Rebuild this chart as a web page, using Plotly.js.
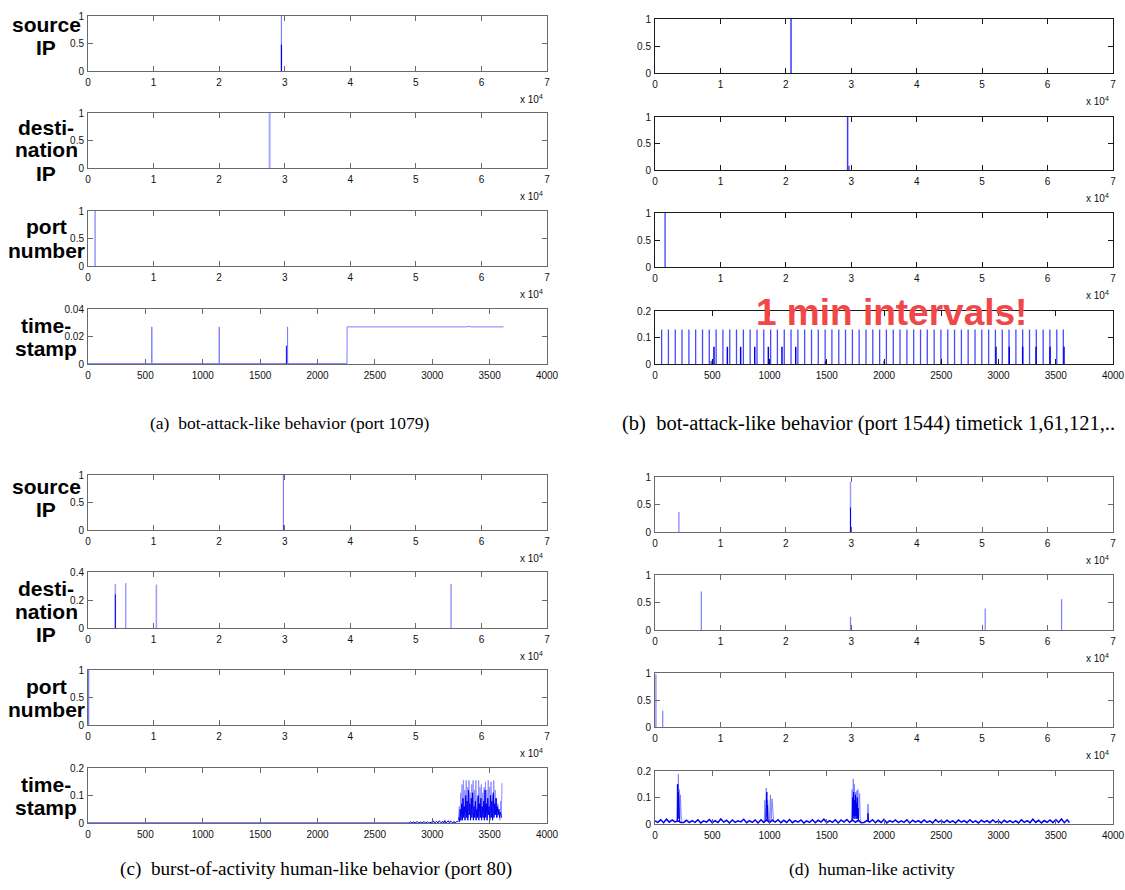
<!DOCTYPE html>
<html><head><meta charset="utf-8">
<script src="https://cdn.plot.ly/plotly-3.0.1.min.js"></script>
<style>html,body{margin:0;padding:0;background:#fff}#chart{width:1125px;height:890px}</style>
</head><body><div id="chart"></div>
<script>
// ---------------- DATA ----------------
// x tick labels
const ipTickVals = [0,10000,20000,30000,40000,50000,60000,70000];
const ipTickText = ['0','1','2','3','4','5','6','7'];
const tsTickVals = [0,500,1000,1500,2000,2500,3000,3500,4000];
const tsTickText = ['0','500','1000','1500','2000','2500','3000','3500','4000'];

// (a) bot-attack-like behavior (port 1079)
const aSrcLightX = [29500], aSrcLightH = [1.0];
const aSrcDarkX = [29500], aSrcDarkH = [0.48];
const aDstLightX = [27700], aDstLightH = [1.0];
const aPortX = [1079], aPortH = [1.0];
const aTsX = [0,555,556,557,1143,1144,1145,1738,1739,1740,2257,2258,3300,3320,3330,3622];
const aTsY = [0.0003,0.0003,0.027,0.0003,0.0003,0.027,0.0003,0.0003,0.027,0.0003,0.0003,0.027,0.027,0.0275,0.027,0.027];
const aTsDarkX = [1729], aTsDarkH = [0.0133];

// (b) bot-attack-like behavior (port 1544)
const bSrcX = [20790], bSrcH = [1.0];
const bDstX = [29440], bDstH = [1.0];
const bDstSmallX = [29650], bDstSmallH = [0.08];
const bPortX = [1544], bPortH = [1.0];
const bTsLightX = [58,117,177,236,296,355,415,474,534,593,653,712,772,831,891,950,1010,1069,1129,1188,1248,1307,1367,1426,1486,1545,1605,1664,1724,1783,1843,1902,1962,2021,2081,2140,2200,2259,2319,2378,2438,2497,2557,2616,2676,2735,2795,2854,2914,2973,3033,3092,3152,3211,3271,3330,3390,3449,3509,3566];
const bTsLightH = [0.13,0.13,0.13,0.13,0.13,0.13,0.13,0.13,0.13,0.13,0.13,0.13,0.13,0.13,0.13,0.13,0.13,0.13,0.13,0.13,0.13,0.13,0.13,0.13,0.13,0.13,0.13,0.13,0.13,0.13,0.13,0.13,0.13,0.13,0.13,0.13,0.13,0.13,0.13,0.13,0.13,0.13,0.13,0.13,0.13,0.13,0.13,0.13,0.13,0.13,0.13,0.13,0.13,0.13,0.13,0.13,0.13,0.13,0.13,0.13];
const bTsDarkX = [515,632,748,871,990,1109,1229,2978,3094,3211,3328,3450,3572];
const bTsDarkH = [0.065,0.065,0.065,0.065,0.065,0.065,0.065,0.065,0.065,0.065,0.065,0.065,0.065];
const bTsTinyX = [490,1490,2000,2500], bTsTinyH = [0.012,0.012,0.012,0.012];

// (c) burst-of-activity human-like behavior (port 80)
const cSrcLightX = [29800], cSrcLightH = [1.0];
const cSrcDarkX = [29900], cSrcDarkH = [0.08];
const cDstLightX = [4170,5750,10430,55370], cDstLightH = [0.315,0.32,0.31,0.315];
const cDstDarkX = [4170], cDstDarkH = [0.24];
const cPortX = [80], cPortH = [1.0];
const cTsBaseX = [0,2800,2810,2820,2840,2850,2870,2880,2900,2910,2930,2940,2960,2970,3000,3010,3020,3040,3050,3060,3080,3090,3100,3110,3120,3140,3150,3160,3180,3190,3200,3210,3228];
const cTsBaseY = [0,0,0.005,0,0.004,0,0.005,0,0.004,0,0.005,0,0.004,0,0.003,0.008,0,0.006,0,0.008,0,0.007,0,0.009,0,0.008,0,0.007,0,0.006,0,0.005,0.005];
const cTsLightX = [3228,3236,3242,3248,3254,3260,3266,3272,3278,3284,3290,3296,3302,3308,3314,3320,3326,3332,3338,3344,3350,3356,3362,3368,3374,3380,3386,3392,3398,3404,3410,3416,3422,3428,3434,3440,3446,3452,3458,3464,3470,3476,3482,3488,3494,3500,3506,3512,3518,3524,3530,3536,3542,3548,3554,3560,3566,3572,3578,3584,3590,3596,3602,3608];
const cTsLightY = [0.005,0.06,0.01,0.11,0.02,0.14,0.03,0.155,0.02,0.12,0.04,0.155,0.03,0.13,0.02,0.155,0.05,0.11,0.02,0.14,0.03,0.155,0.04,0.12,0.02,0.155,0.03,0.09,0.02,0.155,0.05,0.13,0.02,0.14,0.03,0.11,0.02,0.13,0.04,0.15,0.03,0.12,0.02,0.155,0.05,0.13,0.02,0.15,0.04,0.1,0.02,0.155,0.03,0.12,0.05,0.09,0.02,0.07,0.03,0.05,0.01,0.08,0.02,0.145];
const cTsDarkX = [3230,3238,3244,3250,3256,3262,3268,3274,3280,3286,3292,3298,3304,3310,3316,3322,3328,3334,3340,3346,3352,3358,3364,3370,3376,3382,3388,3394,3400,3406,3412,3418,3424,3430,3436,3442,3448,3454,3460,3466,3472,3478,3484,3490,3496,3502,3508,3514,3520,3526,3532,3538,3544,3550,3556,3562,3568,3574,3580,3586,3592,3598,3604];
const cTsDarkY = [0.02,0.005,0.05,0.01,0.07,0.01,0.09,0.02,0.06,0.01,0.1,0.02,0.08,0.01,0.12,0.03,0.07,0.01,0.09,0.02,0.11,0.01,0.06,0.02,0.08,0.01,0.05,0.02,0.1,0.01,0.07,0.02,0.09,0.01,0.06,0.02,0.08,0.01,0.12,0.02,0.07,0.01,0.09,0.03,0.06,0.01,0.1,0.02,0.08,0.01,0.11,0.02,0.07,0.03,0.09,0.02,0.06,0.03,0.05,0.02,0.04,0.03,0.02];

// (d) human-like activity
const dSrcLightX = [3650,29880], dSrcLightH = [0.365,0.915];
const dSrcDarkX = [29880], dSrcDarkH = [0.445];
const dDstX = [7076,29880,50470,62140], dDstH = [0.70,0.24,0.39,0.56];
const dPortX = [140,1180], dPortH = [0.975,0.30];
const dTsX = [0,25,50,75,100,125,150,175,200,225,250,275,300,325,350,375,400,425,450,475,500,525,550,575,600,625,650,675,700,725,750,775,800,825,850,875,900,925,950,975,1000,1025,1050,1075,1100,1125,1150,1175,1200,1225,1250,1275,1300,1325,1350,1375,1400,1425,1450,1475,1500,1525,1550,1575,1600,1625,1650,1675,1700,1725,1750,1775,1800,1825,1850,1875,1900,1925,1950,1975,2000,2025,2050,2075,2100,2125,2150,2175,2200,2225,2250,2275,2300,2325,2350,2375,2400,2425,2450,2475,2500,2525,2550,2575,2600,2625,2650,2675,2700,2725,2750,2775,2800,2825,2850,2875,2900,2925,2950,2975,3000,3025,3050,3075,3100,3125,3150,3175,3200,3225,3250,3275,3300,3325,3350,3375,3400,3425,3450,3475,3500,3525,3550,3575,3600,3620];
const dTsY = [0.012,0.006,0.016,0.005,0.018,0.007,0.015,0.008,0.012,0.006,0.006,0.014,0.005,0.013,0.006,0.016,0.004,0.012,0.007,0.017,0.005,0.013,0.006,0.019,0.007,0.014,0.004,0.015,0.006,0.012,0.008,0.018,0.005,0.013,0.006,0.015,0.004,0.016,0.006,0.016,0.005,0.014,0.007,0.016,0.005,0.014,0.006,0.017,0.005,0.013,0.007,0.015,0.004,0.012,0.006,0.016,0.005,0.014,0.007,0.018,0.005,0.013,0.006,0.016,0.004,0.015,0.007,0.017,0.006,0.015,0.006,0.014,0.005,0.006,0.013,0.007,0.016,0.005,0.014,0.006,0.017,0.004,0.013,0.007,0.015,0.005,0.012,0.006,0.016,0.004,0.014,0.007,0.013,0.005,0.015,0.006,0.012,0.004,0.016,0.007,0.013,0.005,0.014,0.006,0.012,0.004,0.015,0.007,0.013,0.005,0.016,0.006,0.012,0.004,0.014,0.007,0.013,0.005,0.015,0.006,0.012,0.004,0.014,0.006,0.013,0.005,0.012,0.004,0.016,0.006,0.013,0.005,0.018,0.006,0.014,0.004,0.013,0.006,0.015,0.005,0.017,0.006,0.019,0.005,0.016,0.006];
const dTsBurstX = [196,199,202,205,208,211,214,null,968,971,974,977,980,983,986,null,1722,1726,1730,1734,1738,1742,1746,1750,1754,1758,1762,1766,1770,1774,1778,null,1858,1861,1864];
const dTsBurstY = [0.01,0.15,0.02,0.12,0.03,0.08,0.01,null,0.01,0.08,0.03,0.12,0.02,0.07,0.01,null,0.01,0.10,0.02,0.12,0.03,0.09,0.02,0.11,0.03,0.08,0.02,0.10,0.02,0.06,0.01,null,0.01,0.04,0.01];
const dTsPeakX = [190,195,200,204,208,212,216,222,230,null,955,960,965,972,978,984,990,1000,1008,1014,1022,1030,1036,null,1718,1722,1727,1732,1737,1742,1747,1752,1757,1762,1767,1772,1777,1782,1787,1792,1800,null,1855,1860,1866];
const dTsPeakY = [0.01,0.15,0.02,0.188,0.03,0.13,0.02,0.11,0.01,null,0.01,0.09,0.02,0.135,0.03,0.09,0.01,0.02,0.11,0.01,0.095,0.01,0.01,null,0.01,0.13,0.03,0.17,0.04,0.15,0.02,0.12,0.05,0.125,0.03,0.13,0.02,0.09,0.115,0.02,0.01,null,0.01,0.075,0.01];

// text
const rowLabelLines = [['source','IP'],['desti-','nation','IP'],['port','number'],['time-','stamp']];
const captions = ['(a)  bot-attack-like behavior (port 1079)',
  '(b)  bot-attack-like behavior (port 1544) timetick 1,61,121,..',
  '(c)  burst-of-activity human-like behavior (port 80)',
  '(d)  human-like activity'];
const calloutText = '1 min intervals!';

// ---------------- LAYOUT ----------------
const W = 1125, H = 890;
const LIGHT = '#7d7dff', DARK = '#0000f0';
const panels = [
  {x0:88, x1:547, rows:[[16,71],[113,168],[211,266],[309,364]], line:'#6a6a6a', labelY:[36,150,238.5,337]},
  {x0:655, x1:1113, rows:[[19,73],[117,170],[213,267],[311,364]], line:'#1a1a1a'},
  {x0:88, x1:547, rows:[[475,530],[572,628],[670,725],[768,823]], line:'#6a6a6a', labelY:[497.5,611,697.5,795.5]},
  {x0:655, x1:1113, rows:[[477,532],[575,630],[673,727],[771,824]], line:'#6a6a6a'}
];
const yRanges = [
  [[0,1],[0,1],[0,1],[0,0.04]],
  [[0,1],[0,1],[0,1],[0,0.2]],
  [[0,1],[0,0.4],[0,1],[0,0.2]],
  [[0,1],[0,1],[0,1],[0,0.2]]
];
const yTicks = {
  '1':[[0,0.5,1],['0','0.5','1']],
  '0.04':[[0,0.02,0.04],['0','0.02','0.04']],
  '0.2':[[0,0.1,0.2],['0','0.1','0.2']],
  '0.4':[[0,0.2,0.4],['0','0.2','0.4']]
};

const layout = {
  width: W, height: H, margin:{l:0,r:0,t:0,b:0},
  paper_bgcolor:'#fff', plot_bgcolor:'#fff', showlegend:false,
  font:{family:'Liberation Sans, Arial, sans-serif', size:10, color:'#111'},
  annotations: []
};
const traces = [];

function axName(n){ return n===1 ? '' : String(n); }
function spikes(xs, hs){
  const x=[], y=[];
  xs.forEach((v,i)=>{ x.push(v,v,null); y.push(0,hs[i],null); });
  return {x, y};
}
function addSpikes(n, xs, hs, color, width){
  const s = spikes(xs, hs);
  traces.push({type:'scatter', mode:'lines', x:s.x, y:s.y, xaxis:'x'+axName(n), yaxis:'y'+axName(n),
    line:{color:color, width:width}, hoverinfo:'skip', connectgaps:false});
}
function addLine(n, xs, ys, color, width){
  traces.push({type:'scatter', mode:'lines', x:xs, y:ys, xaxis:'x'+axName(n), yaxis:'y'+axName(n),
    line:{color:color, width:width}, hoverinfo:'skip', connectgaps:false});
}

let n = 0;
panels.forEach((p, pi) => {
  p.rows.forEach((r, ri) => {
    n++;
    const isTs = ri === 3;
    const yr = yRanges[pi][ri];
    const yt = yTicks[String(yr[1])];
    const common = {showline:true, linecolor:p.line, linewidth:1, mirror:'ticks', ticks:'inside', ticklen:5,
      tickcolor:p.line, showgrid:false, zeroline:false, fixedrange:true,
      tickfont:{family:'Liberation Sans, Arial, sans-serif', size:10, color:'#111'}};
    layout['xaxis'+axName(n)] = Object.assign({}, common, {
      domain:[p.x0/W, p.x1/W], anchor:'y'+axName(n),
      range: isTs ? [0,4000] : [0,70000],
      tickmode:'array', tickvals: isTs ? tsTickVals : ipTickVals, ticktext: isTs ? tsTickText : ipTickText,
      ticklabelstandoff: 2
    });
    layout['yaxis'+axName(n)] = Object.assign({}, common, {
      domain:[1 - r[1]/H, 1 - r[0]/H], anchor:'x'+axName(n),
      range: yr, tickmode:'array', tickvals: yt[0], ticktext: yt[1], ticklabelstandoff: 1
    });
    if (!isTs) {
      layout.annotations.push({xref:'paper', yref:'paper', x:(p.x1-2)/W, y:1-(r[1]+28)/H,
        xanchor:'right', yanchor:'middle', showarrow:false,
        text:'x 10<sup>4</sup>', font:{family:'Liberation Sans, Arial, sans-serif', size:10, color:'#111'}});
    }
  });
});

// (a)
addSpikes(1, aSrcLightX, aSrcLightH, LIGHT, 1.2);
addSpikes(1, aSrcDarkX, aSrcDarkH, DARK, 1.2);
addSpikes(2, aDstLightX, aDstLightH, '#a8a8ff', 2);
addSpikes(3, aPortX, aPortH, LIGHT, 1.2);
addLine(4, aTsX, aTsY, LIGHT, 1);
addSpikes(4, aTsDarkX, aTsDarkH, DARK, 1);
// (b)
addSpikes(5, bSrcX, bSrcH, '#3a3aff', 1.5);
addSpikes(6, bDstX, bDstH, '#3a3aff', 1.5);
addSpikes(6, bDstSmallX, bDstSmallH, DARK, 1);
addSpikes(7, bPortX, bPortH, '#5a5aff', 1.5);
addSpikes(8, bTsLightX, bTsLightH, '#4a4aff', 1.3);
addSpikes(8, bTsDarkX, bTsDarkH, DARK, 1.5);
addSpikes(8, bTsTinyX, bTsTinyH, DARK, 1);
// (c)
addSpikes(9, cSrcLightX, cSrcLightH, LIGHT, 1.2);
addSpikes(9, cSrcDarkX, cSrcDarkH, DARK, 1);
addSpikes(10, cDstLightX, cDstLightH, '#9a9aff', 1.5);
addSpikes(10, cDstDarkX, cDstDarkH, DARK, 1);
addSpikes(11, cPortX, cPortH, LIGHT, 1.5);
addLine(12, cTsBaseX, cTsBaseY, DARK, 1);
addLine(12, cTsLightX, cTsLightY, '#8f8fff', 1);
addLine(12, cTsDarkX, cTsDarkY, DARK, 1);
// (d)
addSpikes(13, dSrcLightX, dSrcLightH, '#9a9aff', 1.5);
addSpikes(13, dSrcDarkX, dSrcDarkH, DARK, 1);
addSpikes(14, dDstX, dDstH, LIGHT, 1.2);
addSpikes(15, dPortX, dPortH, LIGHT, 1.2);
addLine(16, dTsPeakX, dTsPeakY, '#8080ff', 1);
addLine(16, dTsX, dTsY, DARK, 1.5);
addLine(16, dTsBurstX, dTsBurstY, DARK, 1);

// row labels (panels a and c)
const lineGap = 23;
[0, 2].forEach(pi => {
  const p = panels[pi];
  p.rows.forEach((r, ri) => {
    const lines = rowLabelLines[ri];
    const cy = p.labelY[ri];
    lines.forEach((t, li) => {
      const yy = cy + (li - (lines.length - 1) / 2) * lineGap;
      layout.annotations.push({xref:'paper', yref:'paper', x:46/W, y:1 - yy/H, xanchor:'center', yanchor:'middle',
        showarrow:false, text:'<b>'+t+'</b>', font:{family:'Liberation Sans, Arial, sans-serif', size:21, color:'#000'}});
    });
  });
});

// captions
const capPos = [[290,423],[868,423],[316,869],[872,869]];
const capSize = [17.5,20.5,19.2,17.5];
captions.forEach((c, i) => {
  layout.annotations.push({xref:'paper', yref:'paper', x:capPos[i][0]/W, y:1 - capPos[i][1]/H,
    xanchor:'center', yanchor:'middle', showarrow:false, text:c,
    font:{family:'Liberation Serif, Times New Roman, serif', size:capSize[i], color:'#000'}});
});

// callout
layout.annotations.push({xref:'paper', yref:'paper', x:891/W, y:1 - 312/H, xanchor:'center', yanchor:'middle',
  showarrow:false, text:'<b>'+calloutText+'</b>',
  font:{family:'Liberation Sans, Arial, sans-serif', size:37, color:'#f04848'}});

Plotly.newPlot('chart', traces, layout, {displayModeBar:false, staticPlot:true});
</script></body></html>
